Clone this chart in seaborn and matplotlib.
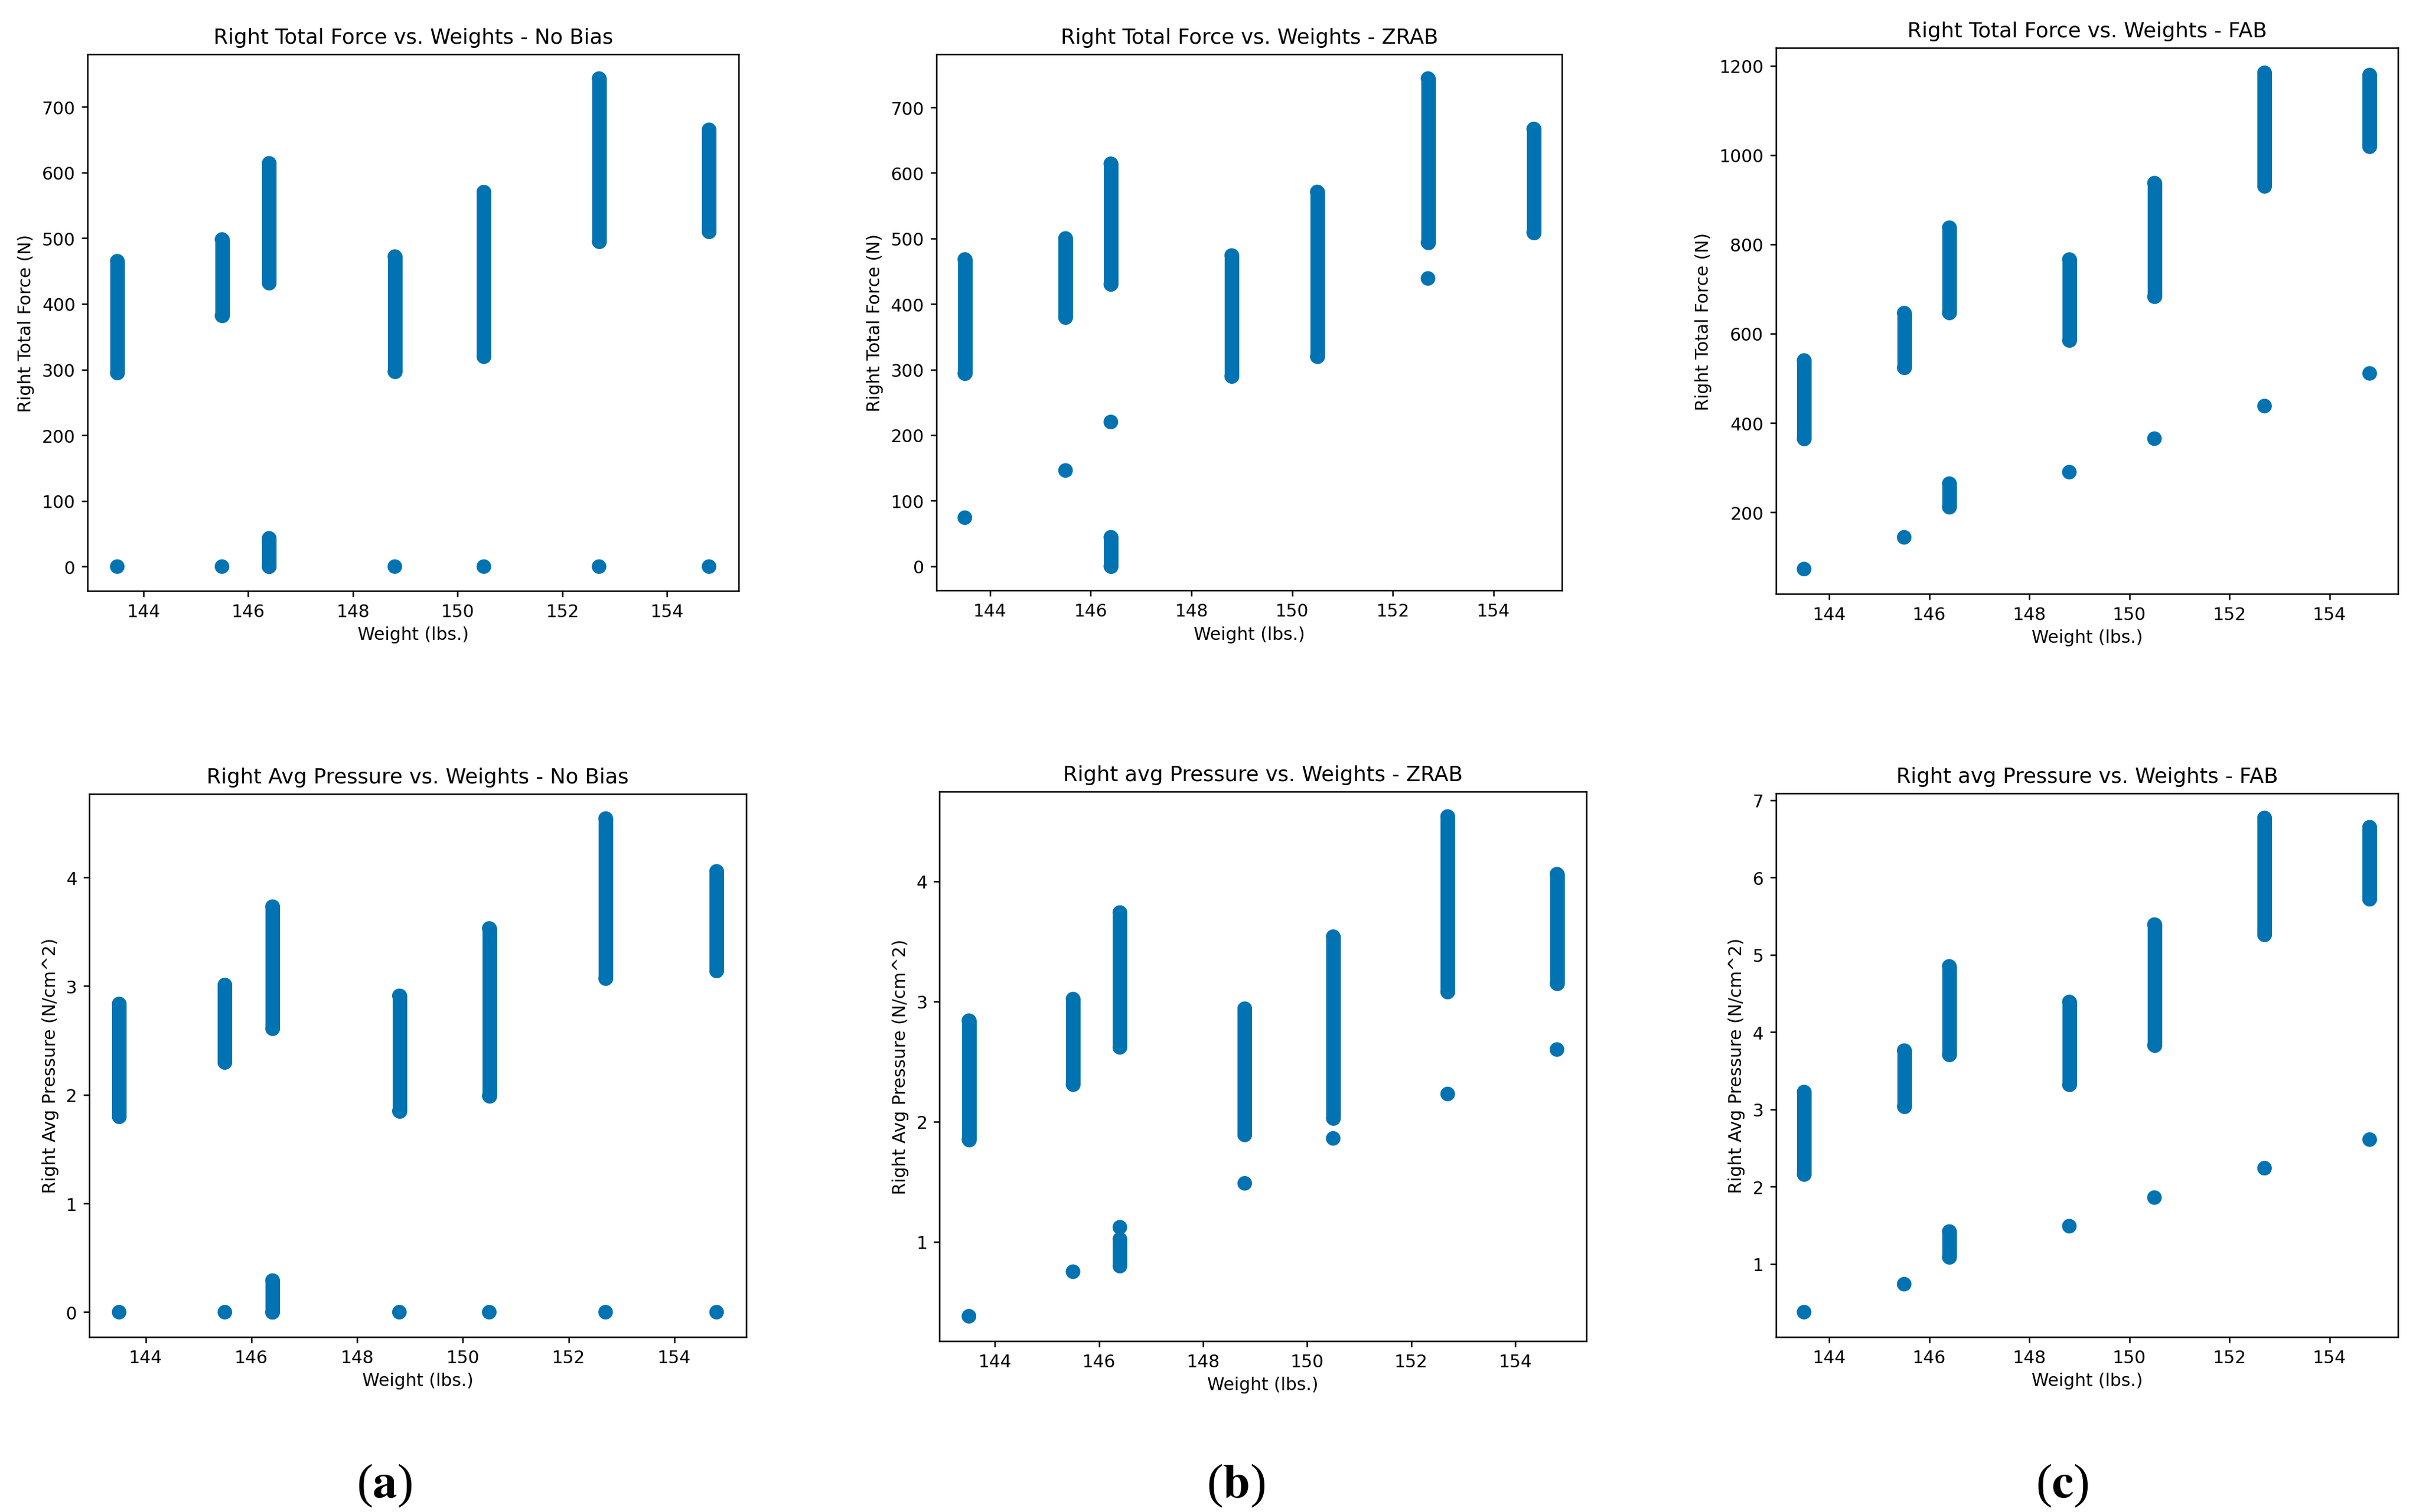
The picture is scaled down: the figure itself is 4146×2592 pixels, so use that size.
import numpy as np
import pandas as pd
import matplotlib
matplotlib.use('Agg')
import matplotlib.pyplot as plt
import seaborn as sns

plt.rcParams['font.family'] = ['DejaVu Sans']
plt.rcParams['mathtext.fontset'] = 'stix'
plt.rcParams['axes.linewidth'] = 0.6
plt.rcParams['xtick.major.width'] = 0.6
plt.rcParams['ytick.major.width'] = 0.6
plt.rcParams['xtick.major.size'] = 2.5
plt.rcParams['ytick.major.size'] = 2.5
plt.rcParams['xtick.major.pad'] = 2.5
plt.rcParams['ytick.major.pad'] = 2.5
plt.rcParams['xtick.labelsize'] = 7.2
plt.rcParams['ytick.labelsize'] = 7.2

BLUE = sns.color_palette('colorblind')[0]

# ------------------------------------------------------------
# data
# ------------------------------------------------------------
weights = [143.5, 145.5, 146.4, 148.8, 150.5, 152.7, 154.8]

# Right total force (N)
force_nobias_lo = [295, 382, 432, 297, 320, 495, 510]
force_nobias_hi = [465, 498, 614, 472, 570, 743, 665]
force_nobias_sec = (146.4, 0, 43)
force_nobias_pts_x = [143.5, 145.5, 146.4, 148.8, 150.5, 152.7, 154.8]
force_nobias_pts_y = [0, 0, 0, 0, 0, 0, 0]

force_zrab_lo = [294, 380, 430, 290, 320, 494, 509]
force_zrab_hi = [468, 500, 614, 474, 571, 744, 667]
force_zrab_sec = (146.4, 0, 44)
force_zrab_pts_x = [143.5, 145.5, 146.4, 152.7]
force_zrab_pts_y = [74, 146, 220, 439]

force_fab_lo = [365, 524, 647, 585, 683, 931, 1019]
force_fab_hi = [540, 646, 837, 766, 937, 1184, 1179]
force_fab_sec = (146.4, 212, 264)
force_fab_pts_x = [143.5, 145.5, 148.8, 150.5, 152.7, 154.8]
force_fab_pts_y = [73, 144, 290, 365, 438, 511]

# Right avg pressure (N/cm^2)
press_nobias_lo = [1.80, 2.30, 2.61, 1.85, 1.99, 3.07, 3.14]
press_nobias_hi = [2.835, 3.01, 3.73, 2.91, 3.53, 4.54, 4.055]
press_nobias_sec = (146.4, 0, 0.29)
press_nobias_pts_x = [143.5, 145.5, 146.4, 148.8, 150.5, 152.7, 154.8]
press_nobias_pts_y = [0, 0, 0, 0, 0, 0, 0]

press_zrab_lo = [1.85, 2.31, 2.62, 1.89, 2.03, 3.08, 3.15]
press_zrab_hi = [2.84, 3.02, 3.74, 2.94, 3.54, 4.54, 4.06]
press_zrab_sec = (146.4, 0.80, 1.02)
press_zrab_pts_x = [143.5, 145.5, 146.4, 148.8, 150.5, 152.7, 154.8]
press_zrab_pts_y = [0.379, 0.75, 1.12, 1.486, 1.86, 2.23, 2.60]

press_fab_lo = [2.165, 3.04, 3.71, 3.32, 3.83, 5.26, 5.72]
press_fab_hi = [3.225, 3.76, 4.85, 4.39, 5.39, 6.77, 6.65]
press_fab_sec = (146.4, 1.09, 1.42)
press_fab_pts_x = [143.5, 145.5, 148.8, 150.5, 152.7, 154.8]
press_fab_pts_y = [0.378, 0.74, 1.49, 1.86, 2.24, 2.61]

panels = [
    ("Right Total Force vs. Weights - No Bias", "Right Total Force (N)",
     force_nobias_lo, force_nobias_hi, force_nobias_sec, force_nobias_pts_x, force_nobias_pts_y,
     [0.03625, 0.6089, 0.2691, 0.3549]),
    ("Right Total Force vs. Weights - ZRAB", "Right Total Force (N)",
     force_zrab_lo, force_zrab_hi, force_zrab_sec, force_zrab_pts_x, force_zrab_pts_y,
     [0.3871, 0.6092, 0.2587, 0.3546]),
    ("Right Total Force vs. Weights - FAB", "Right Total Force (N)",
     force_fab_lo, force_fab_hi, force_fab_sec, force_fab_pts_x, force_fab_pts_y,
     [0.7341, 0.6070, 0.2572, 0.3609]),
    ("Right Avg Pressure vs. Weights - No Bias", "Right Avg Pressure (N/cm^2)",
     press_nobias_lo, press_nobias_hi, press_nobias_sec, press_nobias_pts_x, press_nobias_pts_y,
     [0.0369, 0.1158, 0.2717, 0.3589]),
    ("Right avg Pressure vs. Weights - ZRAB", "Right Avg Pressure (N/cm^2)",
     press_zrab_lo, press_zrab_hi, press_zrab_sec, press_zrab_pts_x, press_zrab_pts_y,
     [0.3884, 0.1129, 0.2674, 0.3634]),
    ("Right avg Pressure vs. Weights - FAB", "Right Avg Pressure (N/cm^2)",
     press_fab_lo, press_fab_hi, press_fab_sec, press_fab_pts_x, press_fab_pts_y,
     [0.7341, 0.1158, 0.2572, 0.3594]),
]

MS = 6.0  # marker diameter in points

fig = plt.figure(figsize=(13.82, 8.6433), dpi=300)

for title, ylabel, lo, hi, sec, px, py, rect in panels:
    ax = fig.add_axes(rect)

    # dense vertical clusters of readings
    ax.vlines(weights, lo, hi, colors=[BLUE], linewidth=MS, capstyle='round')
    ax.vlines([sec[0]], [sec[1]], [sec[2]], colors=[BLUE], linewidth=MS, capstyle='round')

    dots = pd.DataFrame({
        'weight': list(weights) + list(weights) + [sec[0], sec[0]] + list(px),
        'value': list(lo) + list(hi) + [sec[1], sec[2]] + list(py),
    })
    sns.scatterplot(data=dots, x='weight', y='value', ax=ax, color=BLUE,
                    s=MS ** 2, linewidth=0, edgecolor='none')

    ax.set_title(title, fontsize=8.6, pad=4.5)
    ax.set_xlabel("Weight (lbs.)", fontsize=7.2, labelpad=2.5)
    ax.set_ylabel(ylabel, fontsize=7.2, labelpad=3)
    ax.set_xticks([144, 146, 148, 150, 152, 154])

for x, lab in [(0.159, 'a'), (0.511, 'b'), (0.8526, 'c')]:
    fig.text(x, 0.0175, r'($\mathbf{%s}$)' % lab, ha='center', va='center',
             fontsize=20, family='Liberation Serif')

fig.savefig('out.png', dpi=300, facecolor='white')
